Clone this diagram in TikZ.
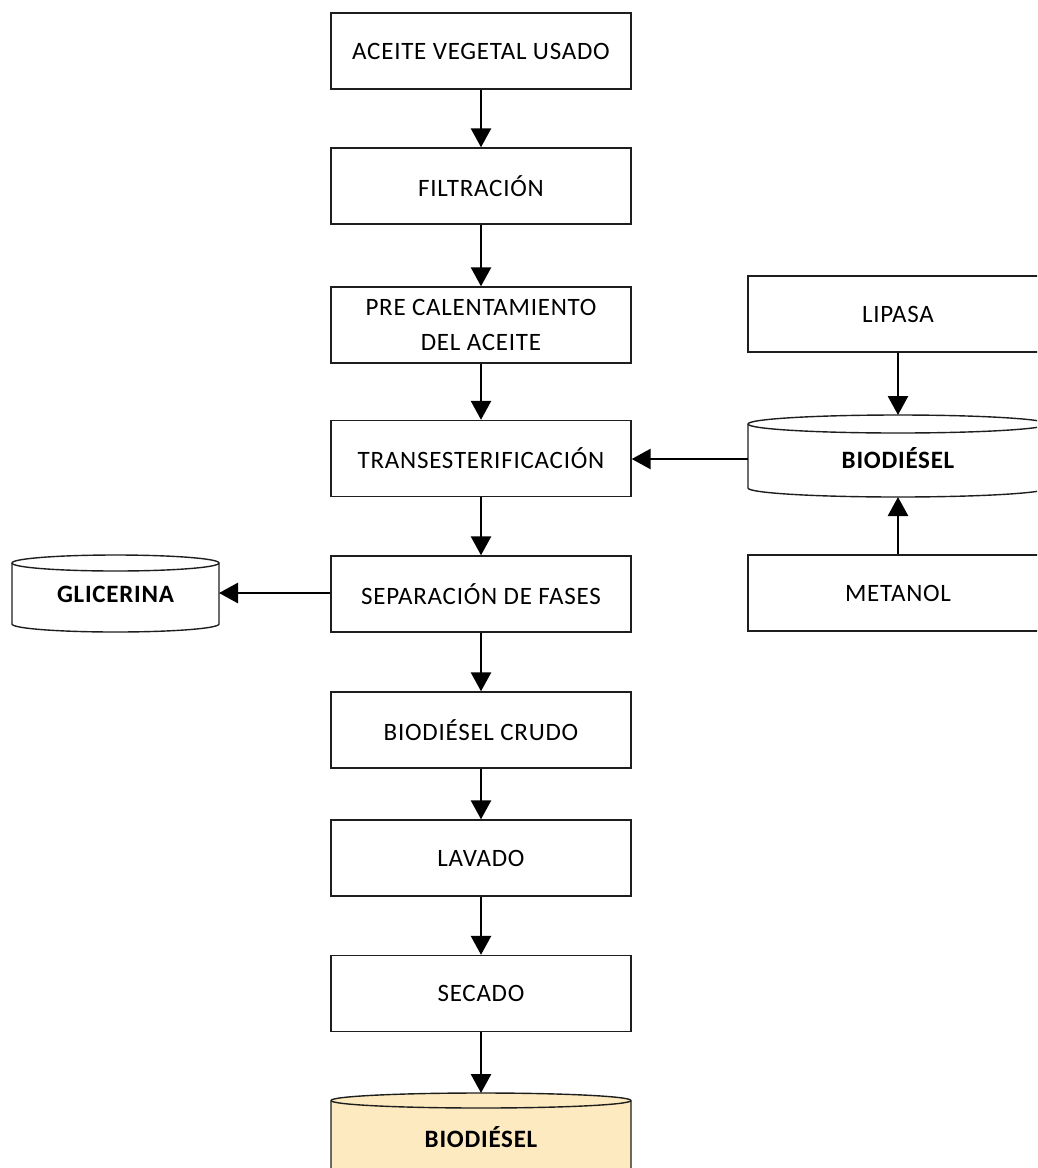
\documentclass[tikz,border=0pt]{standalone}
\usepackage{fontspec}
\setmainfont{Carlito}[LetterSpace=3]
\usetikzlibrary{arrows.meta}
\definecolor{peach}{RGB}{253,234,192}
\definecolor{edge}{RGB}{30,30,30}
\tikzset{
  box/.style={draw=edge, line width=1.4pt, fill=white, minimum width=300pt, minimum height=76pt,
    inner sep=0pt, align=center, font=\fontsize{25}{35}\selectfont},
  cyltext/.style={inner sep=0pt, font=\fontsize{25}{28}\selectfont\bfseries},
  cylline/.style={draw=edge, line width=1.4pt},
  flow/.style={line width=2.8pt, -{Triangle[length=19pt,width=20pt]}},
}
% cylinder: #1 left, #2 right, #3 top, #4 bottom (pixel, y down), #5 half ellipse height, #6 fill
\newcommand{\mycyl}[6]{%
  \pgfmathsetmacro{\rx}{(#2-#1)/2}%
  \pgfmathsetmacro{\yt}{-(#3)-(#5)}%
  \pgfmathsetmacro{\yb}{-(#4)+(#5)}%
  \path[cylline, fill=#6] (#1,\yt) -- (#1,\yb) arc[start angle=180, end angle=360, x radius=\rx, y radius=#5]
     -- (#2,\yt) arc[start angle=0, end angle=180, x radius=\rx, y radius=#5] -- cycle;
  \draw[cylline] (#1,\yt) arc[start angle=180, end angle=360, x radius=\rx, y radius=#5];
}
\begin{document}
\begin{tikzpicture}[x=1pt,y=1pt]
\useasboundingbox (0,0) rectangle (1037,-1168);
\clip (0,0) rectangle (1037,-1168);
% main column
\node[box] (aceite) at (481,-51) {ACEITE VEGETAL USADO};
\node[box] (filt) at (481,-186) {FILTRACIÓN};
\node[box] (pre) at (481,-325) {PRE CALENTAMIENTO\\DEL ACEITE};
\node[box] (trans) at (481,-458.5) {TRANSESTERIFICACIÓN};
\node[box] (sep) at (481,-594) {SEPARACIÓN DE FASES};
\node[box] (crudo) at (481,-730) {BIODIÉSEL CRUDO};
\node[box] (lavado) at (481,-858) {LAVADO};
\node[box] (secado) at (481,-993.5) {SECADO};
% right column
\node[box] (lipasa) at (898,-314) {LIPASA};
\node[box] (metanol) at (898,-593) {METANOL};
% cylinders
\mycyl{748}{1048}{415}{497}{9}{white}
\node[cyltext] (biocyl) at (898,-458) {BIODIÉSEL};
\mycyl{12}{219}{555}{632}{8}{white}
\node[cyltext] (glic) at (115.5,-594) {GLICERINA};
\mycyl{331}{631}{1093}{1181}{7.5}{peach}
\node[cyltext] (final) at (481,-1137) {BIODIÉSEL};
\coordinate (biotop) at (898,-415);
\coordinate (biobot) at (898,-497);
\coordinate (bioleft) at (748,-459);
\coordinate (glicright) at (219,-593);
\coordinate (finaltop) at (481,-1093);
% connectors
\draw[flow] (aceite) -- (filt);
\draw[flow] (filt) -- (pre);
\draw[flow] (pre) -- (trans);
\draw[flow] (trans) -- (sep);
\draw[flow] (sep) -- (crudo);
\draw[flow] (crudo) -- (lavado);
\draw[flow] (lavado) -- (secado);
\draw[flow] (secado) -- (finaltop);
\draw[flow] (bioleft) -- (trans.east |- bioleft);
\draw[flow] (lipasa.south) -- (biotop);
\draw[flow] (metanol.north) -- (biobot);
\draw[flow] (sep.west |- glicright) -- (glicright);
\end{tikzpicture}
\end{document}
